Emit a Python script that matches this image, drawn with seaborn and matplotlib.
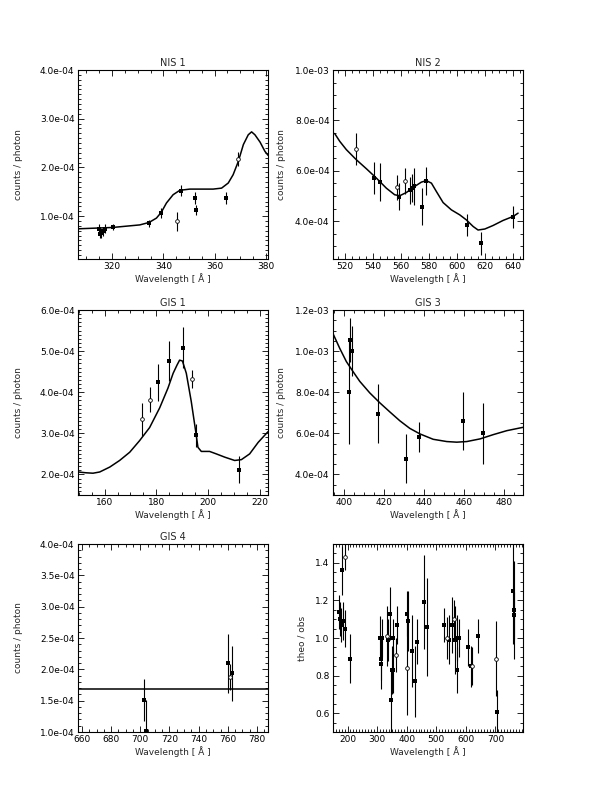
import numpy as np
import matplotlib
matplotlib.use("Agg")
import matplotlib.pyplot as plt
from matplotlib.ticker import MultipleLocator, FuncFormatter
import seaborn as sns

sns.set_style("white")
plt.rcParams['font.family'] = ['DejaVu Sans']
plt.rcParams['font.size'] = 6.5

# ---- NIS 1 ----
nis1_curve_x = [306.7, 320.1, 330.8, 334.4, 337.3, 339.2, 341.2, 343.8, 346.4, 350.3, 359.4,
                362.7, 365.3, 367.2, 369.2, 371.2, 373.1, 374.4, 375.7, 377.7, 379.6, 380.8]
nis1_curve_y = np.array([0.74, 0.767, 0.82, 0.87, 0.96, 1.08, 1.27, 1.44, 1.53, 1.555, 1.555,
                         1.575, 1.68, 1.85, 2.12, 2.47, 2.67, 2.73, 2.67, 2.52, 2.33, 2.25]) * 1e-4
nis1_x = [314.8, 315.4, 315.8, 316.6, 317.1, 320.2, 334.4, 339.1, 345.5, 346.9, 352.4, 352.8, 364.5, 369.0]
nis1_y = np.array([0.74, 0.64, 0.65, 0.685, 0.74, 0.77, 0.856, 1.06, 0.89, 1.52, 1.37, 1.13, 1.37, 2.17]) * 1e-4
nis1_err = np.array([0.10, 0.09, 0.09, 0.09, 0.09, 0.06, 0.07, 0.1, 0.2, 0.11, 0.12, 0.1, 0.12, 0.15]) * 1e-4
nis1_open = [False, False, False, False, False, False, False, False, True, False, False, False, False, True]

# ---- NIS 2 ----
nis2_curve_x = [512.9, 516.5, 521.2, 528.3, 535.5, 542.6, 549.7, 555.6, 559.2, 564.0, 569.9, 574.6, 578.2,
                581.8, 585.3, 590.1, 596.0, 602.0, 606.7, 611.5, 615.0, 619.8, 625.7, 632.8, 640.0, 643.5]
nis2_curve_y = np.array([7.48, 7.17, 6.84, 6.44, 6.08, 5.71, 5.31, 5.05, 5.01, 5.14, 5.38, 5.55, 5.61,
                         5.51, 5.18, 4.74, 4.45, 4.25, 4.05, 3.79, 3.65, 3.69, 3.83, 4.03, 4.19, 4.32]) * 1e-4
nis2_x = [527.9, 540.7, 545.2, 557.5, 558.7, 563.2, 566.8, 568.2, 569.7, 575.4, 577.7, 607.4, 616.9, 640.0]
nis2_y = np.array([6.87, 5.71, 5.55, 5.34, 4.98, 5.58, 5.22, 5.32, 5.38, 4.58, 5.61, 3.85, 3.12, 4.16]) * 1e-4
nis2_err = np.array([0.64, 0.62, 0.75, 0.48, 0.52, 0.52, 0.53, 0.55, 0.72, 0.73, 0.56, 0.43, 0.45, 0.43]) * 1e-4
nis2_open = [True, False, False, True, False, True, False, False, False, False, False, False, False, False]

# ---- GIS 1 ----
gis1_curve_x = [149.7, 152.9, 155.5, 158.1, 162.0, 165.8, 169.7, 173.5, 177.4, 181.3, 184.5, 186.5, 188.0,
                189.0, 190.1, 191.6, 193.5, 195.2, 196.1, 197.4, 200.6, 203.2, 206.5, 210.3, 212.9,
                216.1, 219.4, 223.2]
gis1_curve_y = np.array([2.06, 2.04, 2.03, 2.06, 2.18, 2.34, 2.54, 2.82, 3.14, 3.62, 4.10, 4.46, 4.66,
                         4.78, 4.76, 4.46, 3.78, 3.06, 2.66, 2.56, 2.56, 2.50, 2.42, 2.34, 2.36,
                         2.50, 2.78, 3.04]) * 1e-4
gis1_x = [174.5, 177.4, 180.6, 184.9, 190.3, 193.9, 195.5, 211.9]
gis1_y = np.array([3.34, 3.82, 4.24, 4.76, 5.08, 4.32, 2.95, 2.12]) * 1e-4
gis1_err = np.array([0.4, 0.3, 0.45, 0.49, 0.5, 0.22, 0.28, 0.34]) * 1e-4
gis1_open = [True, True, False, False, False, True, False, False]

# ---- GIS 3 ----
gis3_curve_x = [394.5, 397.9, 401.2, 404.5, 407.9, 412.9, 417.9, 423.0, 428.0, 433.0, 438.1, 444.7,
                451.5, 456.5, 461.5, 468.2, 474.9, 481.6, 489.6]
gis3_curve_y = np.array([10.85, 10.13, 9.49, 9.01, 8.53, 7.97, 7.49, 7.04, 6.61, 6.24, 5.97, 5.71,
                         5.60, 5.57, 5.60, 5.73, 5.94, 6.13, 6.29]) * 1e-4
gis3_x = [402.5, 403.2, 404.2, 417.1, 431.0, 437.5, 459.8, 469.9]
gis3_y = np.array([8.0, 10.56, 10.0, 6.96, 4.77, 5.81, 6.61, 6.0]) * 1e-4
gis3_err = np.array([2.5, 1.07, 1.2, 1.44, 1.2, 0.73, 1.42, 1.49]) * 1e-4
gis3_open = [False] * 8

# ---- GIS 4 ----
gis4_model = 1.685e-4
gis4_x = [702.8, 703.9, 760.4, 761.5, 763.1]
gis4_y = np.array([1.51, 1.015, 2.10, 1.88, 1.94]) * 1e-4
gis4_err = np.array([0.33, 0.5, 0.47, 0.21, 0.44]) * 1e-4
gis4_open = [False, False, False, True, False]

# ---- ratio panel ----
ratio_x = [171.3, 175.9, 179.2, 182.6, 184.9, 190.5, 192.8, 209.8,
           309.2, 312.6, 313.7, 317.1, 334.1, 337.4, 343.1, 345.4, 348.7, 352.1, 354.4, 363.4, 367.9,
           399.6, 401.8, 403.0, 416.5, 429.0, 435.7, 459.5, 469.6,
           526.1, 535.2, 544.2, 554.4, 560.1, 563.4, 569.1, 571.3, 575.9,
           607.4, 616.9, 620.0, 640.0,
           702.8, 703.9, 760.4, 761.5, 763.1]
ratio_y = [1.14, 1.10, 1.07, 1.36, 1.09, 1.43, 1.05, 0.89,
           1.00, 0.89, 0.86, 1.00, 1.01, 0.99, 1.13, 0.67, 0.83, 1.00, 0.83, 0.91, 1.07,
           1.13, 0.84, 1.09, 0.93, 0.77, 0.98, 1.19, 1.06,
           1.07, 1.00, 0.99, 1.07, 1.10, 0.99, 1.00, 0.83, 1.00,
           0.95, 0.85, 0.85, 1.01,
           0.89, 0.605, 1.25, 1.12, 1.15]
ratio_err = [0.09, 0.09, 0.09, 0.13, 0.10, 0.07, 0.10, 0.13,
             0.115, 0.115, 0.13, 0.10, 0.16, 0.11, 0.14, 0.17, 0.13, 0.10, 0.12, 0.09, 0.10,
             0.12, 0.25, 0.16, 0.19, 0.19, 0.12, 0.25, 0.26,
             0.09, 0.11, 0.13, 0.15, 0.10, 0.18, 0.12, 0.12, 0.10,
             0.10, 0.11, 0.10, 0.09,
             0.20, 0.12, 0.28, 0.125, 0.26]
ratio_open = [False, False, False, False, False, True, False, False,
              False, False, False, False, True, False, False, False, False, False, False, True, False,
              False, True, False, False, False, False, False, False,
              False, True, False, False, True, False, False, False, False,
              False, False, True, False,
              True, False, False, False, False]


def sci(v, pos):
    return f"{v:.1e}"


def style_axis(ax, xlim, ylim, xmaj, xmin, ymaj, ymin, yfmt):
    ax.set_xlim(*xlim)
    ax.set_ylim(*ylim)
    ax.xaxis.set_major_locator(MultipleLocator(xmaj))
    ax.xaxis.set_minor_locator(MultipleLocator(xmin))
    ax.yaxis.set_major_locator(MultipleLocator(ymaj))
    ax.yaxis.set_minor_locator(MultipleLocator(ymin))
    ax.yaxis.set_major_formatter(FuncFormatter(yfmt))
    ax.tick_params(which='both', direction='in', top=True, right=True,
                   bottom=True, left=True, width=0.6, labelsize=6.5, pad=2.5, colors='k')
    ax.tick_params(which='major', length=4)
    ax.tick_params(which='minor', length=2)
    for s in ax.spines.values():
        s.set_linewidth(0.8)
        s.set_color('k')
    ax.set_xlabel('Wavelength [ Å ]', fontsize=6.5, labelpad=1.5)


def draw_points(ax, x, y, err, opened):
    x = np.asarray(x)
    y = np.asarray(y)
    err = np.asarray(err)
    opened = np.asarray(opened)
    ax.vlines(x, y - err, y + err, color='k', lw=0.8)
    sns.scatterplot(x=x[~opened], y=y[~opened], marker='s', color='k', s=6,
                    linewidth=0, ax=ax, zorder=3)
    if opened.any():
        sns.scatterplot(x=x[opened], y=y[opened], marker='o', facecolor='white',
                        edgecolor='k', s=7, linewidth=0.6, ax=ax, zorder=3)


fig = plt.figure(figsize=(6.12, 7.92), dpi=100)
W = 190 / 612
lx, rx = 78 / 612, 333 / 612
rows = [(1 - 259 / 792, 189 / 792), (1 - 495 / 792, 185 / 792), (1 - 732 / 792, 188 / 792)]

ax1 = fig.add_axes([lx, rows[0][0], W, rows[0][1]])
ax2 = fig.add_axes([rx, rows[0][0], W, rows[0][1]])
ax3 = fig.add_axes([lx, rows[1][0], W, rows[1][1]])
ax4 = fig.add_axes([rx, rows[1][0], W, rows[1][1]])
ax5 = fig.add_axes([lx, rows[2][0], W, rows[2][1]])
ax6 = fig.add_axes([rx, rows[2][0], W, rows[2][1]])

# NIS 1
sns.lineplot(x=nis1_curve_x, y=nis1_curve_y, color='k', lw=1.1, ax=ax1, sort=False, estimator=None)
draw_points(ax1, nis1_x, nis1_y, nis1_err, nis1_open)
style_axis(ax1, (306.7, 380.8), (0.12e-4, 4.0e-4), 20, 5, 1e-4, 1e-5, sci)
ax1.set_title('NIS 1', fontsize=7, pad=3)

# NIS 2
sns.lineplot(x=nis2_curve_x, y=nis2_curve_y, color='k', lw=1.1, ax=ax2, sort=False, estimator=None)
draw_points(ax2, nis2_x, nis2_y, nis2_err, nis2_open)
style_axis(ax2, (511.7, 647.0), (2.5e-4, 1.0e-3), 20, 5, 2e-4, 5e-5, sci)
ax2.set_title('NIS 2', fontsize=7, pad=3)

# GIS 1
sns.lineplot(x=gis1_curve_x, y=gis1_curve_y, color='k', lw=1.1, ax=ax3, sort=False, estimator=None)
draw_points(ax3, gis1_x, gis1_y, gis1_err, gis1_open)
style_axis(ax3, (149.7, 223.2), (1.5e-4, 6.0e-4), 20, 5, 1e-4, 1e-5, sci)
ax3.set_title('GIS 1', fontsize=7, pad=3)

# GIS 3
sns.lineplot(x=gis3_curve_x, y=gis3_curve_y, color='k', lw=1.1, ax=ax4, sort=False, estimator=None)
draw_points(ax4, gis3_x, gis3_y, gis3_err, gis3_open)
style_axis(ax4, (394.5, 489.7), (3.0e-4, 1.2e-3), 20, 5, 2e-4, 5e-5, sci)
ax4.set_title('GIS 3', fontsize=7, pad=3)

# GIS 4
ax5.axhline(gis4_model, color='k', lw=1.1)
draw_points(ax5, gis4_x, gis4_y, gis4_err, gis4_open)
style_axis(ax5, (657.3, 787.5), (1.0e-4, 4.0e-4), 20, 5, 0.5e-4, 1e-5, sci)
ax5.set_title('GIS 4', fontsize=7, pad=3)

# ratio panel
draw_points(ax6, ratio_x, ratio_y, ratio_err, ratio_open)
style_axis(ax6, (151, 793), (0.5, 1.5), 100, 10, 0.2, 0.05, lambda v, p: f"{v:.1f}")

for ax in (ax1, ax3, ax5):
    ax.set_ylabel('counts / photon', fontsize=6.5)
    ax.yaxis.set_label_coords(-0.29, 0.5)
for ax in (ax2, ax4):
    ax.set_ylabel('counts / photon', fontsize=6.5)
    ax.yaxis.set_label_coords(-0.248, 0.5)
ax6.set_ylabel('theo / obs', fontsize=6.5)
ax6.yaxis.set_label_coords(-0.14, 0.5)

fig.savefig('out.png', dpi=100, facecolor='white')
